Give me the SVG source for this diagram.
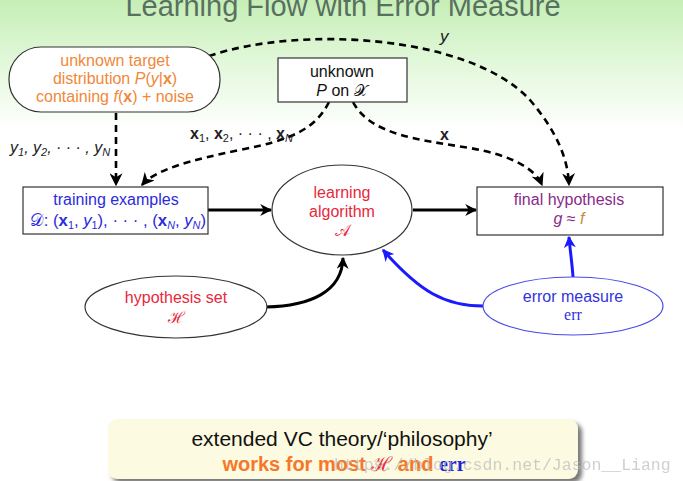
<svg xmlns="http://www.w3.org/2000/svg" width="683" height="481" viewBox="0 0 683 481">
<defs>
<linearGradient id="bg" x1="0" y1="0" x2="0" y2="1">
<stop offset="0" stop-color="#c6eeb6"/>
<stop offset="0.13" stop-color="#e2f8da"/>
<stop offset="0.27" stop-color="#ffffff"/>
<stop offset="1" stop-color="#ffffff"/>
</linearGradient>
<filter id="sh" x="-10%" y="-20%" width="130%" height="160%"><feGaussianBlur stdDeviation="2"/></filter>
<marker id="ab" viewBox="0 0 10 10" refX="9" refY="5" markerWidth="4" markerHeight="4" orient="auto" markerUnits="strokeWidth">
<path d="M0,0 L10,5 L0,10 L3,5 z" fill="#000"/>
</marker>
<marker id="ad" viewBox="0 0 10 10" refX="9" refY="5" markerWidth="5" markerHeight="5" orient="auto" markerUnits="strokeWidth">
<path d="M0,0 L10,5 L0,10 L3,5 z" fill="#000"/>
</marker>
<marker id="abl" viewBox="0 0 10 10" refX="9" refY="5" markerWidth="4" markerHeight="4" orient="auto" markerUnits="strokeWidth">
<path d="M0,0 L10,5 L0,10 L3,5 z" fill="#1a1aff"/>
</marker>
<style>
.t{font-family:"Liberation Sans",Arial,sans-serif;font-size:16px;text-anchor:middle}
.m{font-family:"Liberation Sans",Arial,sans-serif;font-style:italic}
.b{font-weight:bold}
.box{fill:#fff;stroke:#333;stroke-width:1.2}
.dash{fill:none;stroke:#000;stroke-width:2.6;stroke-dasharray:7 5;marker-end:url(#ad)}
.solid{fill:none;stroke:#000;stroke-width:3;marker-end:url(#ab)}
.blue{fill:none;stroke:#1a1aff;stroke-width:3;marker-end:url(#abl)}
.lab{font-family:"Liberation Sans",Arial,sans-serif;font-size:16px;fill:#222}
</style>
</defs>
<rect x="0" y="0" width="683" height="481" fill="url(#bg)"/>
<text x="343" y="16" class="t" style="font-size:29px;fill:#587060">Learning Flow with Error Measure</text>

<g id="connectors">
<path class="dash" d="M116,113 L116,185"/>
<path class="dash" d="M329,102 C315,130 290,140 240,150 C190,160 155,170 142,185"/>
<path class="dash" d="M353,102 C370,135 420,140 470,148 C510,155 535,168 542,185"/>
<path class="dash" d="M209,56 C300,25 470,35 530,100 C558,133 568,160 569,185"/>
<path class="solid" d="M208,210 L271,210"/>
<path class="solid" d="M413,210 L476,210"/>
<path class="solid" d="M266,307 C310,306 342,292 343,258"/>
<path class="blue" d="M483,306 C445,306 420,292 383,250"/>
<path class="blue" d="M573,277 C572,262 570,250 569,237"/>
<text x="10" y="153" class="lab m" style="font-size:16px">y<tspan font-size="11" dy="3">1</tspan><tspan dy="-3">, y</tspan><tspan font-size="11" dy="3">2</tspan><tspan dy="-3">, · · · , y</tspan><tspan font-size="11" dy="3">N</tspan></text>
<text x="190" y="139" class="lab"><tspan class="b">x</tspan><tspan font-size="11" dy="3">1</tspan><tspan dy="-3">, </tspan><tspan class="b">x</tspan><tspan font-size="11" dy="3">2</tspan><tspan dy="-3">, · · · , </tspan><tspan class="b">x</tspan><tspan font-size="11" dy="3" class="m">N</tspan></text>
<text x="440" y="140" class="lab b">x</text>
<text x="440" y="42" class="lab m" style="font-size:17px">y</text>
</g>

<g id="target">
<rect x="9" y="47" width="211" height="65" rx="32" class="box"/>
<text class="t" fill="#f0883a"><tspan x="115" y="66">unknown target</tspan><tspan x="115" y="84">distribution <tspan class="m">P</tspan>(<tspan class="m">y</tspan>|<tspan class="b">x</tspan>)</tspan><tspan x="115" y="102">containing <tspan class="m">f</tspan>(<tspan class="b">x</tspan>) + noise</tspan></text>
</g>

<g id="unknownP">
<rect x="278" y="58" width="129" height="44" class="box"/>
<text class="t" fill="#111"><tspan x="342" y="77">unknown</tspan><tspan x="342" y="96"><tspan class="m">P</tspan> on 𝒳</tspan></text>
</g>

<g id="training">
<rect x="23" y="187" width="185" height="47" class="box"/>
<text class="t" fill="#2b2bdd"><tspan x="116" y="205">training examples</tspan></text>
<text x="30" y="226" class="lab" style="font-size:17px;fill:#2b2bdd" textLength="176" lengthAdjust="spacingAndGlyphs">𝒟: (<tspan class="b">x</tspan><tspan font-size="11" dy="3">1</tspan><tspan dy="-3">, </tspan><tspan class="m">y</tspan><tspan font-size="11" dy="3">1</tspan><tspan dy="-3">), · · · , (</tspan><tspan class="b">x</tspan><tspan font-size="11" dy="3" class="m">N</tspan><tspan dy="-3">, </tspan><tspan class="m">y</tspan><tspan font-size="11" dy="3" class="m">N</tspan><tspan dy="-3">)</tspan></text>
</g>

<g id="learning">
<ellipse cx="342" cy="210" rx="70" ry="45" class="box"/>
<text class="t" fill="#e8283c"><tspan x="342" y="198">learning</tspan><tspan x="342" y="217">algorithm</tspan><tspan x="342" y="236">𝒜</tspan></text>
</g>

<g id="final">
<rect x="477" y="187" width="186" height="48" class="box"/>
<text class="t" fill="#8a2a8a"><tspan x="569" y="205">final hypothesis</tspan><tspan x="569" y="224"><tspan class="m">g</tspan> ≈ <tspan class="m" fill="#c78a3f">f</tspan></tspan></text>
</g>

<g id="hypset">
<ellipse cx="176" cy="307" rx="91" ry="31" class="box"/>
<text class="t" fill="#e8283c"><tspan x="176" y="303">hypothesis set</tspan><tspan x="176" y="323">ℋ</tspan></text>
</g>

<g id="errmeasure">
<ellipse cx="573" cy="306" rx="90" ry="29" fill="#fff" stroke="#4a4ae8" stroke-width="1.2"/>
<text class="t" fill="#3333dd"><tspan x="573" y="302">error measure</tspan><tspan x="573" y="320" style="font-family:'Liberation Serif',serif">err</tspan></text>
</g>

<g id="callout">
<rect x="112" y="423" width="470" height="60" rx="9" fill="#777" filter="url(#sh)"/>
<rect x="108" y="419" width="470" height="60" rx="9" fill="#fcfae0"/>
<text x="342" y="446" class="t" style="font-size:21px;fill:#111">extended VC theory/‘philosophy’</text>
<text x="344" y="471" class="t b" style="font-size:20px;fill:#f5782a">works for most <tspan style="font-weight:normal;fill:#e8283c">ℋ</tspan> and <tspan style="font-family:'Liberation Serif',serif;fill:#2020dd">err</tspan></text>
<text x="334" y="470" style="font-family:'Liberation Mono',monospace;font-size:16.5px;fill:#bbbbbb;opacity:0.7">https://blog.csdn.net/Jason__Liang</text>
</g>
</svg>
